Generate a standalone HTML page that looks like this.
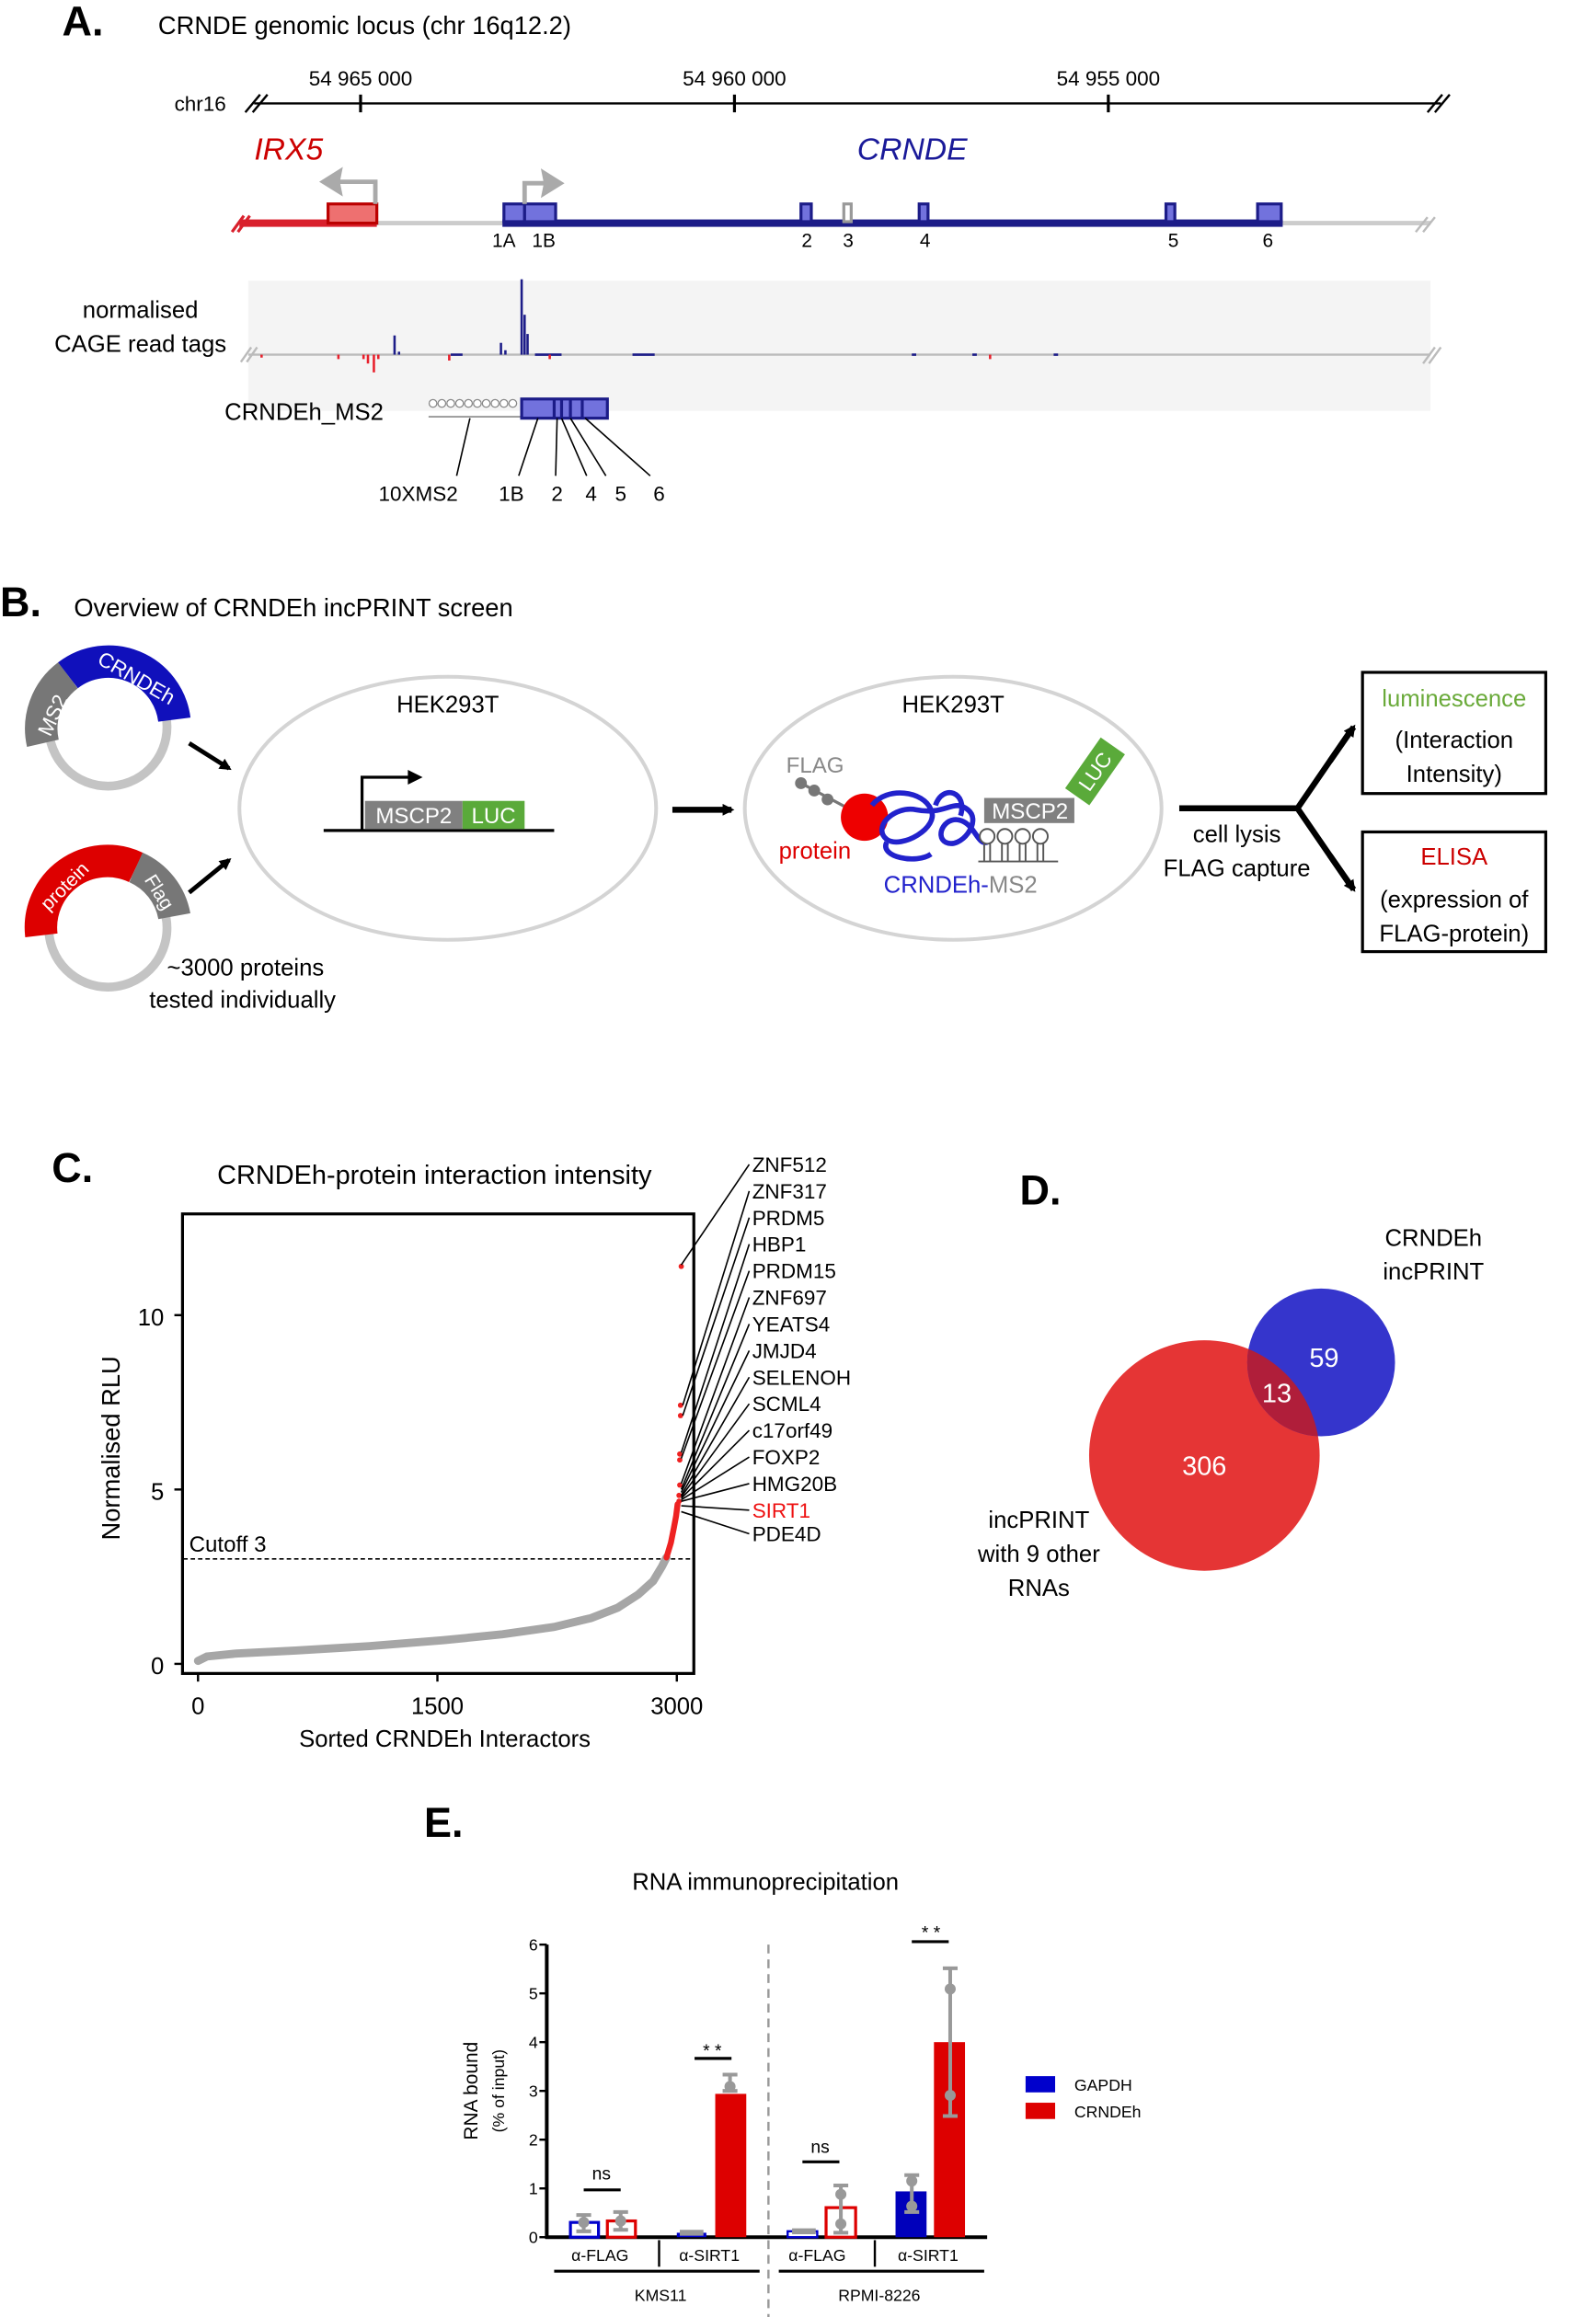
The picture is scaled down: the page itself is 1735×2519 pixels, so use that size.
<!DOCTYPE html>
<html><head><meta charset="utf-8"><style>
html,body{margin:0;padding:0;background:#fff}
svg{display:block}
text{font-family:"Liberation Sans",sans-serif}
</style></head><body>
<svg width="1735" height="2519" viewBox="0 0 1080 1568" xmlns="http://www.w3.org/2000/svg">
<defs>
<marker id="ah" markerWidth="8" markerHeight="8" refX="6" refY="4" orient="auto" markerUnits="userSpaceOnUse"><path d="M0,0 L8,4 L0,8 Z" fill="#000"/></marker>
<clipPath id="bc"><circle cx="894" cy="922" r="50"/></clipPath>
</defs>

<!-- PANEL A -->
<text x="42" y="24" font-size="28" font-weight="bold">A.</text>
<text x="107" y="23" font-size="17">CRNDE genomic locus (chr 16q12.2)</text>
<text x="118" y="75" font-size="14">chr16</text>
<line x1="172" y1="70" x2="975" y2="70" stroke="#000" stroke-width="1.5"/>
<path d="M166,76 L176,64 M171,76 L181,64 M966,76 L976,64 M971,76 L981,64" stroke="#000" stroke-width="1.5"/>
<g stroke="#000" stroke-width="2"><line x1="244" y1="64" x2="244" y2="76"/><line x1="497" y1="64" x2="497" y2="76"/><line x1="750" y1="64" x2="750" y2="76"/></g>
<g font-size="14" text-anchor="middle"><text x="244" y="58">54 965 000</text><text x="497" y="58">54 960 000</text><text x="750" y="58">54 955 000</text></g>
<text x="172" y="108" font-size="21" font-style="italic" fill="#cc0000">IRX5</text>
<text x="580" y="108" font-size="21" font-style="italic" fill="#1a1a99">CRNDE</text>
<line x1="165" y1="151" x2="968" y2="151" stroke="#ccc" stroke-width="3"/>
<path d="M958,157 L966,147 M963,157 L971,147" stroke="#bbb" stroke-width="1.5"/>
<rect x="162" y="148.5" width="93" height="5" fill="#d9202c"/>
<path d="M157,157 L165,146 M161,157 L169,146" stroke="#d9202c" stroke-width="2"/>
<rect x="222" y="138" width="33" height="13" fill="#ee7070" stroke="#bb0000" stroke-width="2"/>
<rect x="340" y="148.5" width="528" height="5" fill="#1c1c88"/>
<g fill="#7272dd" stroke="#1c1c88" stroke-width="2">
<rect x="341" y="138" width="14" height="12"/><rect x="355" y="138" width="21" height="12"/>
<rect x="542" y="138" width="7" height="12"/><rect x="622" y="138" width="6" height="12"/>
<rect x="789" y="138" width="6" height="12"/><rect x="851" y="138" width="16" height="12"/></g>
<rect x="571" y="138" width="5" height="12" fill="#fff" stroke="#999" stroke-width="2"/>
<path d="M254,138 V123 H228" stroke="#aaa" stroke-width="3" fill="none"/><path d="M216,123 L232,113 L230,123 L232,133 Z" fill="#aaa"/>
<path d="M355,138 V124 H370" stroke="#aaa" stroke-width="3" fill="none"/><path d="M382,124 L366,114 L368,124 L366,134 Z" fill="#aaa"/>
<g font-size="13" text-anchor="middle"><text x="341" y="167">1A</text><text x="368" y="167">1B</text><text x="546" y="167">2</text><text x="574" y="167">3</text><text x="626" y="167">4</text><text x="794" y="167">5</text><text x="858" y="167">6</text></g>
<rect x="168" y="190" width="800" height="88" fill="#f4f4f4"/>
<text x="95" y="215" font-size="16" text-anchor="middle">normalised</text>
<text x="95" y="238" font-size="16" text-anchor="middle">CAGE read tags</text>
<line x1="168" y1="240" x2="968" y2="240" stroke="#bbb" stroke-width="1.5"/>
<path d="M163,245 L170,235 M167,245 L174,235 M963,246 L971,235 M967,246 L975,235" stroke="#bbb" stroke-width="1.5"/>
<g stroke="#1c1c88" stroke-width="1.6">
<line x1="267" y1="240" x2="267" y2="227"/><line x1="353" y1="240" x2="353" y2="189"/><line x1="355" y1="240" x2="355" y2="213"/><line x1="357" y1="240" x2="357" y2="226"/><line x1="339" y1="240" x2="339" y2="232"/><line x1="342" y1="240" x2="342" y2="237"/><line x1="270" y1="240" x2="270" y2="238"/><line x1="305" y1="240" x2="313" y2="240"/><line x1="362" y1="240" x2="380" y2="240"/><line x1="428" y1="240" x2="443" y2="240"/><line x1="617" y1="240" x2="620" y2="240"/><line x1="713" y1="240" x2="716" y2="240"/><line x1="658" y1="240" x2="661" y2="240"/></g>
<g stroke="#e8202c" stroke-width="1.6">
<line x1="253" y1="240" x2="253" y2="252"/><line x1="249" y1="240" x2="249" y2="246"/><line x1="246" y1="240" x2="246" y2="243"/><line x1="256" y1="240" x2="256" y2="243"/><line x1="229" y1="240" x2="229" y2="243"/><line x1="177" y1="240" x2="177" y2="242"/><line x1="304" y1="240" x2="304" y2="244"/><line x1="372" y1="240" x2="372" y2="243"/><line x1="670" y1="240" x2="670" y2="243"/></g>
<text x="152" y="284" font-size="16">CRNDEh_MS2</text>
<g fill="#fff" stroke="#888" stroke-width="0.8">
<circle cx="293" cy="273" r="2.6"/><circle cx="299" cy="273" r="2.6"/><circle cx="305" cy="273" r="2.6"/><circle cx="311" cy="273" r="2.6"/><circle cx="317" cy="273" r="2.6"/><circle cx="323" cy="273" r="2.6"/><circle cx="329" cy="273" r="2.6"/><circle cx="335" cy="273" r="2.6"/><circle cx="341" cy="273" r="2.6"/><circle cx="347" cy="273" r="2.6"/></g>
<line x1="290" y1="282" x2="352" y2="282" stroke="#888" stroke-width="1"/>
<rect x="353" y="270" width="58" height="13" fill="#7272dd" stroke="#1c1c88" stroke-width="2"/>
<g stroke="#1c1c88" stroke-width="2"><line x1="375" y1="270" x2="375" y2="283"/><line x1="380" y1="270" x2="380" y2="283"/><line x1="386" y1="270" x2="386" y2="283"/><line x1="394" y1="270" x2="394" y2="283"/></g>
<g stroke="#000" stroke-width="1"><line x1="318" y1="283" x2="309" y2="322"/><line x1="364" y1="283" x2="351" y2="322"/><line x1="377" y1="283" x2="376" y2="322"/><line x1="380" y1="283" x2="397" y2="322"/><line x1="386" y1="283" x2="410" y2="322"/><line x1="396" y1="283" x2="440" y2="322"/></g>
<g font-size="14" text-anchor="middle"><text x="283" y="339">10XMS2</text><text x="346" y="339">1B</text><text x="377" y="339">2</text><text x="400" y="339">4</text><text x="420" y="339">5</text><text x="446" y="339">6</text></g>

<!-- PANEL B -->
<text x="0" y="417" font-size="28" font-weight="bold">B.</text>
<text x="50" y="417" font-size="17">Overview of CRNDEh incPRINT screen</text>
<circle cx="73" cy="492" r="40" fill="none" stroke="#c4c4c4" stroke-width="6"/>
<path d="M29,503 A45,45 0 0 1 46,457" fill="none" stroke="#777" stroke-width="22"/>
<path d="M46,457 A45,45 0 0 1 118,487" fill="none" stroke="#1010bb" stroke-width="22"/>
<text x="40" y="486" font-size="14" fill="#fff" transform="rotate(-65 40 486)" text-anchor="middle">MS2</text>
<text x="90" y="463" font-size="14" fill="#fff" transform="rotate(30 90 463)" text-anchor="middle">CRNDEh</text>
<circle cx="73" cy="628" r="40" fill="none" stroke="#c4c4c4" stroke-width="6"/>
<path d="M28,633 A45,45 0 0 1 92,587" fill="none" stroke="#dd0000" stroke-width="22"/>
<path d="M92,587 A45,45 0 0 1 118,620" fill="none" stroke="#777" stroke-width="22"/>
<text x="44" y="600" font-size="13" fill="#fff" transform="rotate(-45 44 600)" text-anchor="middle" dy="4">protein</text>
<text x="104" y="606" font-size="13" fill="#fff" transform="rotate(58 104 606)" text-anchor="middle">Flag</text>
<text x="113" y="660" font-size="16">~3000 proteins</text>
<text x="101" y="682" font-size="16">tested individually</text>
<line x1="128" y1="503" x2="155" y2="520" stroke="#000" stroke-width="3" marker-end="url(#ah)"/>
<line x1="128" y1="604" x2="155" y2="582" stroke="#000" stroke-width="3" marker-end="url(#ah)"/>
<ellipse cx="303" cy="547" rx="141" ry="89" fill="#fff" stroke="#d4d4d4" stroke-width="2.5"/>
<text x="303" y="482" font-size="16" text-anchor="middle">HEK293T</text>
<line x1="219" y1="562" x2="375" y2="562" stroke="#000" stroke-width="2"/>
<path d="M245,562 V526 H278" fill="none" stroke="#000" stroke-width="2"/><path d="M286,526 L276,521 L276,531 Z"/>
<rect x="247" y="542" width="66" height="19" fill="#808080"/><rect x="313" y="542" width="42" height="19" fill="#5aaa3a"/>
<text x="280" y="557" font-size="15" fill="#fff" text-anchor="middle">MSCP2</text><text x="334" y="557" font-size="15" fill="#fff" text-anchor="middle">LUC</text>
<line x1="455" y1="548" x2="495" y2="548" stroke="#000" stroke-width="4" marker-end="url(#ah)"/>
<ellipse cx="645" cy="547" rx="141" ry="89" fill="#fff" stroke="#d4d4d4" stroke-width="2.5"/>
<text x="645" y="482" font-size="16" text-anchor="middle">HEK293T</text>
<text x="532" y="523" font-size="15" fill="#888">FLAG</text>
<g fill="#777"><circle cx="542" cy="530" r="4"/><circle cx="551" cy="535" r="4"/><circle cx="560" cy="541" r="4"/></g>
<line x1="542" y1="530" x2="572" y2="546" stroke="#777" stroke-width="2"/>
<circle cx="585" cy="553" r="16" fill="#ee0000"/>
<text x="527" y="581" font-size="16" fill="#dd0000">protein</text>
<path d="M590,545 C600,532 625,535 630,548 C636,560 610,575 600,568 C590,560 605,545 620,548 C640,552 645,540 655,548 C665,556 650,575 640,570 C632,566 640,550 652,556 C660,560 662,572 668,570 M600,570 C595,580 620,585 630,578 M633,545 C638,530 655,536 650,552" fill="none" stroke="#2222cc" stroke-width="3.5"/>
<rect x="666" y="540" width="61" height="17" fill="#808080"/>
<text x="697" y="554" font-size="15" fill="#fff" text-anchor="middle">MSCP2</text>
<g transform="rotate(-55 741 522)"><rect x="720" y="512" width="42" height="20" fill="#5aaa3a"/><text x="741" y="527" font-size="14" fill="#fff" text-anchor="middle">LUC</text></g>
<g fill="#fff" stroke="#555" stroke-width="1.2"><circle cx="668" cy="566" r="5"/><circle cx="680" cy="566" r="5"/><circle cx="692" cy="566" r="5"/><circle cx="704" cy="566" r="5"/></g>
<path d="M662,583 H716 M666,571 V583 M670,571 V583 M678,571 V583 M682,571 V583 M690,571 V583 M694,571 V583 M702,571 V583 M706,571 V583" stroke="#555" stroke-width="1.2" fill="none"/>
<text x="598" y="604" font-size="16" fill="#2222cc">CRNDEh-<tspan fill="#888">MS2</tspan></text>
<path d="M798,547 H878 L913,496 M878,547 L913,598" fill="none" stroke="#000" stroke-width="4"/>
<line x1="900" y1="515" x2="916" y2="492" stroke="#000" stroke-width="4" marker-end="url(#ah)"/>
<line x1="900" y1="579" x2="916" y2="602" stroke="#000" stroke-width="4" marker-end="url(#ah)"/>
<text x="837" y="570" font-size="16" text-anchor="middle">cell lysis</text>
<text x="837" y="593" font-size="16" text-anchor="middle">FLAG capture</text>
<rect x="922" y="455" width="124" height="82" fill="none" stroke="#000" stroke-width="2"/>
<text x="984" y="478" font-size="16" fill="#6aaa3a" text-anchor="middle">luminescence</text>
<text x="984" y="506" font-size="16" text-anchor="middle">(Interaction</text>
<text x="984" y="529" font-size="16" text-anchor="middle">Intensity)</text>
<rect x="922" y="563" width="124" height="81" fill="none" stroke="#000" stroke-width="2"/>
<text x="984" y="585" font-size="16" fill="#cc0000" text-anchor="middle">ELISA</text>
<text x="984" y="614" font-size="16" text-anchor="middle">(expression of</text>
<text x="984" y="637" font-size="16" text-anchor="middle">FLAG-protein)</text>

<!-- PANEL C -->
<text x="35" y="800" font-size="28" font-weight="bold">C.</text>
<text x="294" y="801" font-size="18" text-anchor="middle">CRNDEh-protein interaction intensity</text>
<rect x="123.5" y="821.5" width="346" height="311" fill="none" stroke="#000" stroke-width="2"/>
<g stroke="#000" stroke-width="1.5"><line x1="118" y1="890" x2="123" y2="890"/><line x1="118" y1="1008" x2="123" y2="1008"/><line x1="118" y1="1126" x2="123" y2="1126"/><line x1="134" y1="1133" x2="134" y2="1138"/><line x1="296" y1="1133" x2="296" y2="1138"/><line x1="458" y1="1133" x2="458" y2="1138"/></g>
<g font-size="16" text-anchor="end"><text x="111" y="897">10</text><text x="111" y="1015">5</text><text x="111" y="1133">0</text></g>
<g font-size="16" text-anchor="middle"><text x="134" y="1160">0</text><text x="296" y="1160">1500</text><text x="458" y="1160">3000</text></g>
<text x="301" y="1182" font-size="16" text-anchor="middle">Sorted CRNDEh Interactors</text>
<text transform="translate(81 980) rotate(-90)" font-size="17" text-anchor="middle">Normalised RLU</text>
<line x1="124" y1="1055" x2="469" y2="1055" stroke="#000" stroke-width="1" stroke-dasharray="3,2"/>
<text x="128" y="1050" font-size="15">Cutoff 3</text>
<path d="M134,1124 L140,1121 L160,1119 L200,1117 L250,1114 L300,1110 L340,1106 L375,1101 L400,1095 L418,1088 L432,1079 L442,1070 L448,1060 L451,1054" fill="none" stroke="#a6a6a6" stroke-width="5.5" stroke-linecap="round"/>
<path d="M451,1054 L454,1044 L456,1034 L457.5,1026 L458.5,1018" fill="none" stroke="#ee2222" stroke-width="4" stroke-linecap="round"/>
<g fill="#ee2222"><circle cx="461" cy="857" r="1.8"/><circle cx="460.5" cy="951" r="1.8"/><circle cx="460.5" cy="958" r="1.8"/><circle cx="460" cy="984" r="1.8"/><circle cx="460" cy="988" r="1.8"/><circle cx="460" cy="1005" r="1.8"/><circle cx="459.5" cy="1012" r="1.8"/><circle cx="459.5" cy="1016" r="1.8"/></g>
<g stroke="#000" stroke-width="1"><line x1="507" y1="788" x2="461" y2="856"/><line x1="507" y1="806" x2="462" y2="951"/><line x1="507" y1="824" x2="462" y2="958"/><line x1="507" y1="842" x2="461" y2="983"/><line x1="507" y1="860" x2="461" y2="987"/><line x1="507" y1="878" x2="461" y2="1004"/><line x1="507" y1="896" x2="461" y2="1008"/><line x1="507" y1="914" x2="461" y2="1010"/><line x1="507" y1="932" x2="461" y2="1012"/><line x1="507" y1="950" x2="461" y2="1013"/><line x1="507" y1="968" x2="461" y2="1014"/><line x1="507" y1="986" x2="461" y2="1015"/><line x1="507" y1="1004" x2="461" y2="1016"/><line x1="507" y1="1022" x2="461" y2="1019"/><line x1="507" y1="1038" x2="461" y2="1023"/></g>
<g font-size="14"><text x="509" y="793">ZNF512</text><text x="509" y="811">ZNF317</text><text x="509" y="829">PRDM5</text><text x="509" y="847">HBP1</text><text x="509" y="865">PRDM15</text><text x="509" y="883">ZNF697</text><text x="509" y="901">YEATS4</text><text x="509" y="919">JMJD4</text><text x="509" y="937">SELENOH</text><text x="509" y="955">SCML4</text><text x="509" y="973">c17orf49</text><text x="509" y="991">FOXP2</text><text x="509" y="1009">HMG20B</text><text x="509" y="1027" fill="#ee1111">SIRT1</text><text x="509" y="1043">PDE4D</text></g>

<!-- PANEL D -->
<text x="690" y="815" font-size="28" font-weight="bold">D.</text>
<text x="970" y="843" font-size="16" text-anchor="middle">CRNDEh</text>
<text x="970" y="866" font-size="16" text-anchor="middle">incPRINT</text>
<circle cx="815" cy="985" r="78" fill="#e53535"/>
<circle cx="894" cy="922" r="50" fill="#3535cc"/>
<circle cx="815" cy="985" r="78" fill="#b01e3a" clip-path="url(#bc)"/>
<text x="815" y="998" font-size="18" fill="#fff" text-anchor="middle">306</text>
<text x="896" y="925" font-size="18" fill="#fff" text-anchor="middle">59</text>
<text x="864" y="949" font-size="18" fill="#fff" text-anchor="middle">13</text>
<text x="703" y="1034" font-size="16" text-anchor="middle">incPRINT</text>
<text x="703" y="1057" font-size="16" text-anchor="middle">with 9 other</text>
<text x="703" y="1080" font-size="16" text-anchor="middle">RNAs</text>

<!-- PANEL E -->
<text x="287" y="1243" font-size="28" font-weight="bold">E.</text>
<text x="518" y="1279" font-size="16" text-anchor="middle">RNA immunoprecipitation</text>
<line x1="370" y1="1316" x2="370" y2="1515" stroke="#000" stroke-width="2.5"/>
<line x1="369" y1="1514" x2="668" y2="1514" stroke="#000" stroke-width="2.5"/>
<g stroke="#000" stroke-width="1.5"><line x1="365" y1="1316" x2="370" y2="1316"/><line x1="365" y1="1349" x2="370" y2="1349"/><line x1="365" y1="1382" x2="370" y2="1382"/><line x1="365" y1="1415" x2="370" y2="1415"/><line x1="365" y1="1448" x2="370" y2="1448"/><line x1="365" y1="1481" x2="370" y2="1481"/><line x1="365" y1="1514" x2="370" y2="1514"/></g>
<g font-size="11" text-anchor="end"><text x="364" y="1320">6</text><text x="364" y="1353">5</text><text x="364" y="1386">4</text><text x="364" y="1419">3</text><text x="364" y="1452">2</text><text x="364" y="1485">1</text><text x="364" y="1518">0</text></g>
<text transform="translate(323 1415) rotate(-90)" font-size="13" text-anchor="middle">RNA bound</text>
<text transform="translate(341 1415) rotate(-90)" font-size="11" text-anchor="middle">(% of input)</text>
<line x1="520" y1="1316" x2="520" y2="1568" stroke="#999" stroke-width="1.5" stroke-dasharray="6,4"/>
<rect x="386" y="1504" width="19" height="10" fill="#fff" stroke="#0000cc" stroke-width="2"/>
<rect x="411" y="1503" width="19" height="11" fill="#fff" stroke="#dd0000" stroke-width="2"/>
<rect x="458" y="1511" width="20" height="3" fill="#0000cc"/>
<rect x="484" y="1417" width="21" height="97" fill="#dd0000"/>
<rect x="533" y="1510" width="20" height="4" fill="#fff" stroke="#0000cc" stroke-width="1.5"/>
<rect x="559" y="1494" width="20" height="20" fill="#fff" stroke="#dd0000" stroke-width="2"/>
<rect x="606" y="1483" width="21" height="31" fill="#0000bb"/>
<rect x="632" y="1382" width="21" height="132" fill="#dd0000"/>
<g stroke="#999" stroke-width="2.5" fill="#999">
<path d="M395,1499 V1510 M390,1499 H400 M390,1510 H400" fill="none"/><circle cx="395" cy="1504" r="2.5"/>
<path d="M420,1497 V1509 M415,1497 H425 M415,1509 H425" fill="none"/><circle cx="420" cy="1503" r="2.5"/>
<path d="M460,1511 H476" fill="none" stroke-width="4"/>
<path d="M494,1404 V1415 M489,1404 H499 M489,1415 H499" fill="none"/><circle cx="494" cy="1412" r="2.5"/>
<path d="M536,1510 H552" fill="none" stroke-width="4"/>
<path d="M569,1479 V1511 M564,1479 H574 M564,1511 H574" fill="none"/><circle cx="569" cy="1485" r="2.5"/><circle cx="569" cy="1505" r="2.5"/>
<path d="M617,1472 V1497 M612,1472 H622 M612,1497 H622" fill="none"/><circle cx="617" cy="1476" r="2.5"/><circle cx="617" cy="1493" r="2.5"/>
<path d="M643,1332 V1432 M638,1332 H648 M638,1432 H648" fill="none"/><circle cx="643" cy="1346" r="2.5"/><circle cx="643" cy="1418" r="2.5"/>
</g>
<g stroke="#000" stroke-width="2"><line x1="395" y1="1482" x2="420" y2="1482"/><line x1="470" y1="1393" x2="495" y2="1393"/><line x1="543" y1="1463" x2="568" y2="1463"/><line x1="617" y1="1314" x2="642" y2="1314"/></g>
<g font-size="12" text-anchor="middle"><text x="407" y="1475">ns</text><text x="482" y="1392">* *</text><text x="555" y="1457">ns</text><text x="630" y="1312">* *</text></g>
<g stroke="#000" stroke-width="1.5"><line x1="446" y1="1516" x2="446" y2="1534"/><line x1="592" y1="1516" x2="592" y2="1534"/></g>
<g stroke="#000" stroke-width="2"><line x1="375" y1="1537" x2="514" y2="1537"/><line x1="527" y1="1537" x2="666" y2="1537"/></g>
<g font-size="11" text-anchor="middle"><text x="406" y="1530">α-FLAG</text><text x="480" y="1530">α-SIRT1</text><text x="553" y="1530">α-FLAG</text><text x="628" y="1530">α-SIRT1</text><text x="447" y="1557">KMS11</text><text x="595" y="1557">RPMI-8226</text></g>
<rect x="694" y="1405" width="20" height="11" fill="#0000cc"/><rect x="694" y="1423" width="20" height="11" fill="#dd0000"/>
<text x="727" y="1415" font-size="11">GAPDH</text><text x="727" y="1433" font-size="11">CRNDEh</text>
</svg>
</body></html>
